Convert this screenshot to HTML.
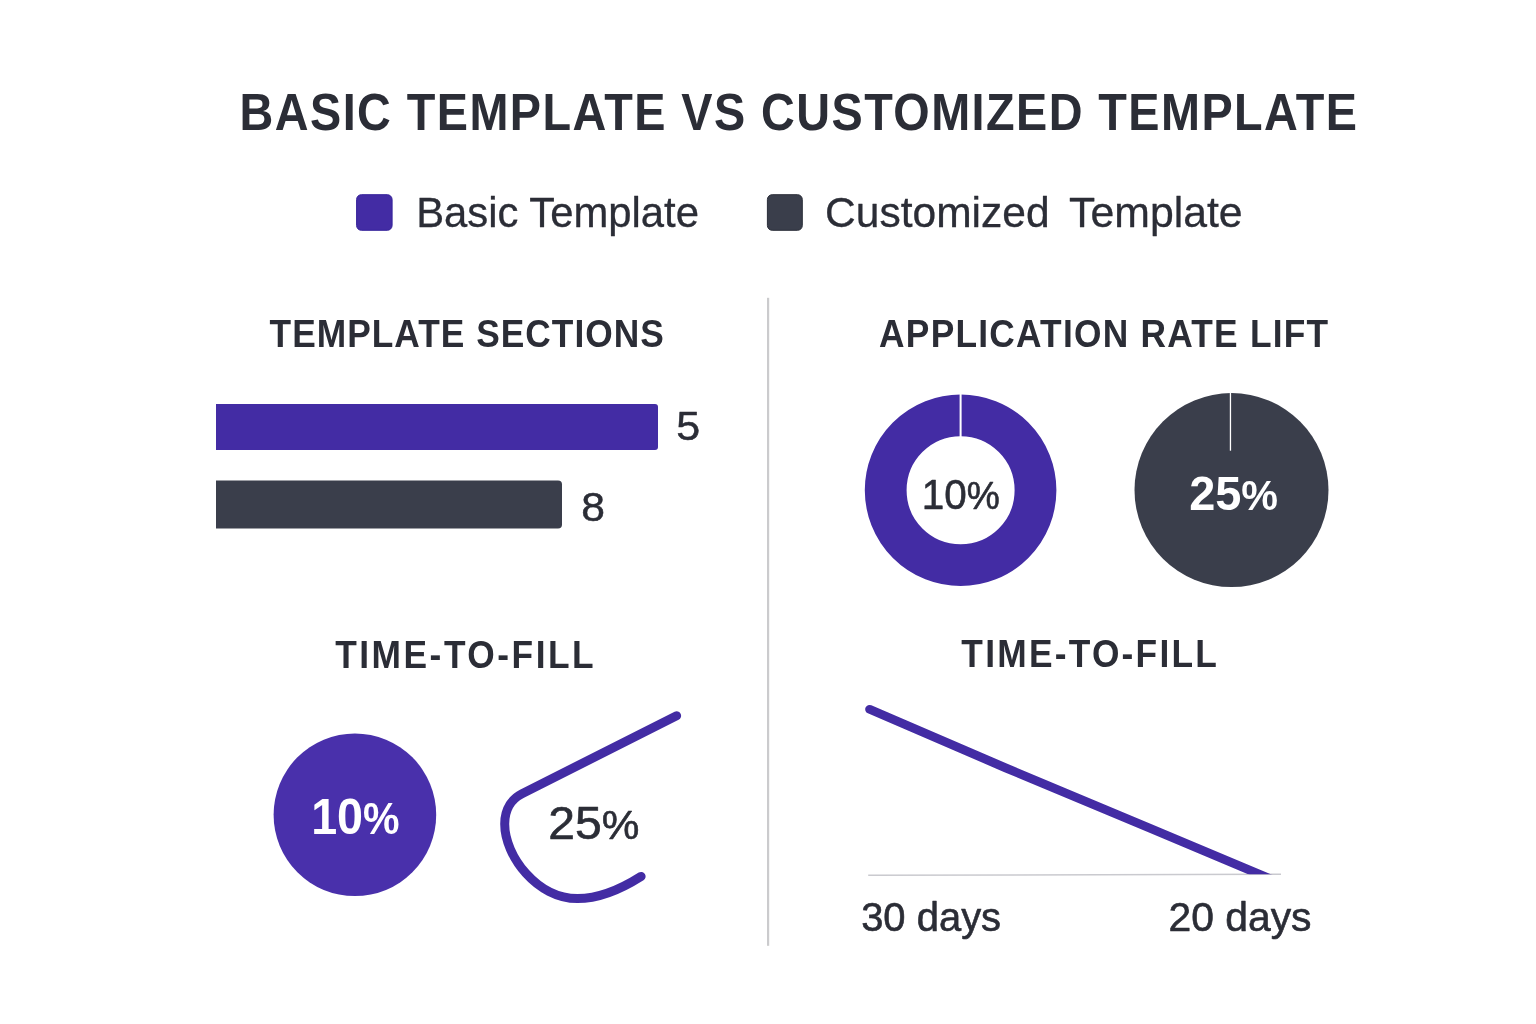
<!DOCTYPE html>
<html lang="en">
<head>
<meta charset="utf-8">
<title>Basic Template vs Customized Template</title>
<style>
  html, body { margin: 0; padding: 0; background: #ffffff; }
  body { width: 1536px; height: 1024px; overflow: hidden; }
  svg { display: block; }
  text { font-family: "Liberation Sans", sans-serif; }
</style>
</head>
<body>
<svg width="1536" height="1024" viewBox="0 0 1536 1024">
  <rect x="0" y="0" width="1536" height="1024" fill="#ffffff"/>

  <!-- Title -->
  <text id="title" transform="translate(239.56 129.80) scale(0.9 1)" x="0" y="0" font-size="52" font-weight="700" fill="#2b2d36" textLength="1241.67" lengthAdjust="spacing">BASIC TEMPLATE VS CUSTOMIZED TEMPLATE</text>

  <!-- Legend -->
  <rect x="356.6" y="194.7" width="35.5" height="35.6" rx="4.8" fill="#432ca4" stroke="#35229a" stroke-width="1"/>
  <text id="lg1" x="416.14" y="227.30" font-size="42" fill="#2b2d36" stroke="#2b2d36" stroke-width="0.3" stroke-linejoin="round" textLength="282.87" lengthAdjust="spacingAndGlyphs">Basic Template</text>
  <rect x="767.4" y="194.7" width="34.9" height="35.6" rx="4.8" fill="#3a3e4b" stroke="#2a2d38" stroke-width="1"/>
  <text id="lg2" x="825.04" y="227.20" font-size="42" fill="#2b2d36" stroke="#2b2d36" stroke-width="0.3" stroke-linejoin="round" textLength="224.66" lengthAdjust="spacingAndGlyphs">Customized</text>
  <text id="lg3" x="1069.10" y="227.30" font-size="42" fill="#2b2d36" stroke="#2b2d36" stroke-width="0.3" stroke-linejoin="round" textLength="173.54" lengthAdjust="spacingAndGlyphs">Template</text>

  <!-- Divider -->
  <rect x="767" y="297.8" width="2.2" height="648" fill="#cbcbcd"/>

  <!-- Template sections: horizontal bars -->
  <text id="h1" transform="translate(269.58 346.80) scale(0.93 1)" x="0" y="0" font-size="38" font-weight="700" fill="#2b2d36" textLength="423.95" lengthAdjust="spacing">TEMPLATE SECTIONS</text>
  <path d="M216 404 H655 a3 3 0 0 1 3 3 V447 a3 3 0 0 1 -3 3 H216 Z" fill="#432ca4"/>
  <path d="M216 480.5 H558 a4 4 0 0 1 4 4 V524.5 a4 4 0 0 1 -4 4 H216 Z" fill="#3a3e4b"/>
  <text id="n5" x="676.36" y="440.00" font-size="41.5" fill="#2b2d36" stroke="#2b2d36" stroke-width="0.5" stroke-linejoin="round" textLength="23.91" lengthAdjust="spacingAndGlyphs">5</text>
  <text id="n8" x="581.31" y="521.30" font-size="41.5" fill="#2b2d36" stroke="#2b2d36" stroke-width="0.5" stroke-linejoin="round" textLength="23.70" lengthAdjust="spacingAndGlyphs">8</text>

  <!-- Application rate lift: donut + pie -->
  <text id="h2" transform="translate(879.10 346.70) scale(0.93 1)" x="0" y="0" font-size="38" font-weight="700" fill="#2b2d36" textLength="482.86" lengthAdjust="spacing">APPLICATION RATE LIFT</text>
  <circle cx="960.6" cy="490.3" r="74.9" fill="none" stroke="#432ca4" stroke-width="41.8"/>
  <rect x="959.6" y="393" width="2" height="44" fill="#ffffff"/>
  <text id="p10a" x="921.67" y="508.50" font-size="42.2" fill="#2b2d36" stroke="#2b2d36" stroke-width="0.6" stroke-linejoin="round" textLength="78.02" lengthAdjust="spacingAndGlyphs">10<tspan font-size="38.8">%</tspan></text>
  <circle cx="1231.5" cy="490.1" r="97" fill="#3a3e4b"/>
  <rect x="1229.8" y="392" width="1.3" height="58.7" fill="#ffffff"/>
  <text id="p25a" x="1189.15" y="510.00" font-size="47.5" font-weight="700" fill="#ffffff" textLength="88.91" lengthAdjust="spacingAndGlyphs">25<tspan font-size="41.8">%</tspan></text>

  <!-- Time-to-fill (left) -->
  <text id="h3" transform="translate(335.21 667.50) scale(0.93 1)" x="0" y="0" font-size="38" font-weight="700" fill="#2b2d36" textLength="277.94" lengthAdjust="spacing">TIME-TO-FILL</text>
  <circle cx="354.9" cy="814.8" r="81.3" fill="#4930ab"/>
  <text id="p10b" x="311.14" y="833.60" font-size="50" font-weight="700" fill="#ffffff" textLength="88.50" lengthAdjust="spacingAndGlyphs">10<tspan font-size="44.0">%</tspan></text>
  <path d="M676.6 715.8 L522 793.7 C513 798.2 504.7 808 504.7 824 C504.7 856 537 898.6 577.5 898.6 C603 898.6 626 886 641.1 876.4" fill="none" stroke="#432ca4" stroke-width="9" stroke-linecap="round" stroke-linejoin="round"/>
  <text id="p25b" x="548.36" y="839.30" font-size="46.8" fill="#2b2d36" stroke="#2b2d36" stroke-width="0.6" stroke-linejoin="round" textLength="91.07" lengthAdjust="spacingAndGlyphs">25<tspan font-size="41.2">%</tspan></text>

  <!-- Time-to-fill (right) -->
  <text id="h4" transform="translate(961.37 667.40) scale(0.93 1)" x="0" y="0" font-size="38" font-weight="700" fill="#2b2d36" textLength="274.76" lengthAdjust="spacing">TIME-TO-FILL</text>
  <line x1="868.2" y1="875.3" x2="1281" y2="874.3" stroke="#cacacf" stroke-width="1.5"/>
  <clipPath id="clipAxis"><rect x="850" y="690" width="450" height="184.3"/></clipPath>
  <path d="M869.6 709.3 L1005 767.6 L1150 828.2 L1290 887.1" fill="none" stroke="#432ca4" stroke-width="8.8" stroke-linecap="round" stroke-linejoin="round" clip-path="url(#clipAxis)"/>
  <text id="d30" x="861.15" y="931.25" font-size="40.2" fill="#2b2d36" stroke="#2b2d36" stroke-width="0.6" stroke-linejoin="round" textLength="139.96" lengthAdjust="spacingAndGlyphs">30 days</text>
  <text id="d20" x="1168.41" y="931.25" font-size="40.2" fill="#2b2d36" stroke="#2b2d36" stroke-width="0.6" stroke-linejoin="round" textLength="143.12" lengthAdjust="spacingAndGlyphs">20 days</text>

</svg>
</body>
</html>
